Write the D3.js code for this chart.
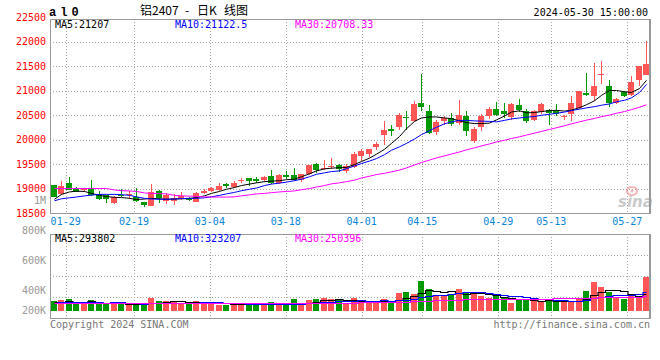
<!DOCTYPE html>
<html><head><meta charset="utf-8">
<script src="https://cdn.jsdelivr.net/npm/d3@7"></script>
<style>body{margin:0;background:#fff}svg{display:block}</style>
</head><body><svg id="c" width="660" height="360"></svg>
<script>
const dates = ["01-25","01-26","01-29","01-30","01-31","02-01","02-02","02-05","02-06","02-07","02-08",
"02-19","02-20","02-21","02-22","02-23","02-26","02-27","02-28","02-29",
"03-01","03-04","03-05","03-06","03-07","03-08","03-11","03-12","03-13","03-14","03-15","03-18","03-19","03-20","03-21","03-22","03-25","03-26","03-27","03-28","03-29",
"04-01","04-02","04-03","04-08","04-09","04-10","04-11","04-12","04-15","04-16","04-17","04-18","04-19","04-22","04-23","04-24","04-25","04-26","04-29","04-30",
"05-06","05-07","05-08","05-09","05-10","05-13","05-14","05-15","05-16","05-17","05-20","05-21","05-22","05-23","05-24","05-27","05-28","05-29","05-30"];

const openP = [19066,18896,19112,18980,18970,19020,18880,18860,18710,18870,18870,
18830,18725,18650,18940,18740,18740,18790,18795,18730,
18900,18945,18965,19085,19030,19160,19215,19195,19170,19250,19115,19285,19280,19170,19290,19495,19410,19440,19470,19360,19440,
19670,19710,19850,20085,20220,20255,20460,20380,20745,20575,20155,20380,20445,20335,20480,19965,20255,20470,20615,20575,
20460,20700,20575,20405,20560,20595,20610,20465,20530,20645,20950,20880,21330,21085,20745,20970,20900,21205,21325];
const highP = [19080,19145,19234,19030,19020,19170,18950,18870,18840,19000,18950,
19020,18730,19090,18960,18900,18880,18930,18830,18920,
19000,19030,19110,19120,19150,19220,19220,19240,19260,19370,19300,19350,19420,19300,19480,19520,19575,19620,19500,19490,19740,
19800,19810,19950,20380,20290,20540,20575,20790,21330,20700,20400,20470,20540,20815,20590,20250,20530,20660,20765,20740,
20750,20820,20615,20600,20740,20615,20720,20500,20890,20990,21355,21560,21595,21210,20850,21000,21295,21500,22020];
const lowP = [18820,18860,18970,18925,18930,18850,18770,18710,18690,18830,18790,
18730,18630,18640,18710,18680,18670,18760,18740,18720,
18890,18920,18950,19020,19020,19110,19050,19110,19140,19100,19090,19200,19160,19140,19280,19320,19385,19400,19340,19320,19420,
19570,19650,19780,19880,20080,20200,20190,20360,20580,20120,20100,20290,20275,20290,20080,19920,20180,20420,20470,20445,
20390,20560,20330,20370,20530,20290,20470,20390,20380,20620,20880,20790,21140,20665,20720,20860,20880,21085,21320];
const closeP = [18833,19045,18977,18930,18980,18860,18780,18790,18830,18860,18880,
18750,18670,18920,18800,18860,18810,18845,18760,18900,
18950,19010,19050,19050,19120,19170,19155,19155,19235,19110,19285,19235,19180,19290,19470,19385,19420,19450,19390,19455,19700,
19765,19800,19900,20185,20170,20490,20450,20730,20660,20130,20355,20445,20325,20495,20175,20220,20470,20615,20495,20530,
20730,20595,20370,20575,20720,20540,20525,20475,20745,20985,20900,21085,21345,20745,20835,20890,21175,21495,21535];

const ma5 = [18780,18880,18930,18945,18940,18900,18860,18835,18820,18815,18800,18775,18785,18800,18790,18780,18785,18790,18795,18815,
18850,18900,18940,18985,19020,19060,19090,19115,19140,19150,19160,19180,19190,19240,19300,19360,19400,19415,19425,19430,
19490,19550,19620,19700,19800,19920,20060,20220,20370,20440,20460,20460,20440,20425,20380,20345,20325,20325,20335,20400,
20480,20560,20585,20545,20550,20570,20590,20595,20580,20600,20650,20710,20790,20900,21000,21000,20975,20960,21040,21207];
const ma10 = [18750,18790,18810,18826,18850,18865,18880,18880,18880,18875,18860,18830,18800,18785,18780,18780,18785,18795,18800,18800,
18810,18830,18860,18890,18920,18955,18985,19010,19060,19090,19110,19130,19160,19190,19240,19290,19320,19345,19360,19405,
19460,19510,19560,19610,19690,19780,19850,19920,20010,20100,20180,20250,20320,20360,20390,20390,20380,20375,20370,20360,
20390,20420,20440,20455,20470,20495,20515,20535,20560,20590,20620,20645,20670,20700,20725,20770,20800,20850,20960,21122];
const ma30 = [19000,19000,19000,19000,19000,19000,19000,19000,18970,18955,18950,18940,18910,18900,18895,18890,18860,18850,18845,18840,
18830,18825,18825,18825,18830,18850,18870,18890,18900,18915,18930,18940,18950,18975,19000,19030,19060,19095,19115,19140,
19170,19215,19250,19285,19310,19340,19375,19420,19480,19530,19580,19625,19665,19705,19745,19790,19830,19870,19910,19950,
19985,20020,20055,20090,20130,20165,20205,20240,20280,20320,20360,20395,20430,20465,20500,20535,20570,20610,20660,20708];

// volume in thousands
const volK = [166,182,200,126,126,182,126,126,126,126,97,97,114,222,166,166,166,126,126,166,
154,126,108,108,108,126,108,108,108,148,126,97,200,108,182,200,228,200,182,137,
222,154,137,137,200,154,308,325,285,507,371,250,250,296,371,325,285,250,222,250,
222,137,182,200,182,154,182,154,154,171,228,336,496,410,325,239,200,250,250,581];
const volMa5 = [158,162,165,160,160,163,152,137,137,137,120,114,112,131,139,153,167,169,150,150,
148,140,136,132,121,115,112,112,112,120,120,117,136,136,143,157,184,184,198,189,
194,179,166,157,170,156,187,225,254,316,359,348,333,335,308,298,305,305,291,266,
246,216,203,198,185,171,180,174,165,163,178,209,277,328,359,361,334,285,253,294];
const volMa10 = [145,148,150,150,150,150,148,145,147,149,141,133,125,134,138,137,141,141,141,145,
151,154,153,141,136,132,126,124,122,121,118,115,124,124,132,139,151,160,167,166,
176,182,175,178,180,175,183,196,206,243,258,268,279,295,312,329,327,319,313,287,
272,261,254,245,226,209,198,189,182,174,175,195,226,247,261,270,272,281,291,323];
const volMa30 = [130,130,131,131,131,131,131,130,130,130,129,129,129,130,130,130,131,131,131,132,
132,132,132,132,132,132,132,132,133,134,134,134,135,136,137,138,140,141,142,143,
145,146,147,148,150,152,157,160,163,170,177,180,183,187,192,197,201,205,208,211,
213,213,213,213,213,213,213,214,214,215,217,221,227,231,234,235,236,238,241,250];

const priceTicks = [18500,19000,19500,20000,20500,21000,21500,22000,22500];
const dateTicks = ["01-29","02-19","03-04","03-18","04-01","04-15","04-29","05-13","05-27"];
const volTickValues = [1000,800,600,400,200];
const volTickLabels = ["1M","800K","600K","400K","200K"];
const priceMaLabels = ["MA5:21207","MA10:21122.5","MA30:20708.33"];
const volMaLabels = ["MA5:293802","MA10:323207","MA30:250396"];
const titleParts = ["铝2407", "-", "日K", "线图"];
const codeText = "al0";
const stampText = "2024-05-30 15:00:00";

const RED = "#ff5555", GREEN = "#009a00", GRID = "#aaaaaa", BORDER = "#999999";
const MONO = "'DejaVu Sans Mono', monospace";
const maColors = ["#000000", "#0000ff", "#ff00ff"];

const svg = d3.select("#c");
const L = 50, R = 650, TOP = 19, BOT = 213, VTOP = 234, VBOT = 318;

const x = d3.scaleBand().domain(d3.range(dates.length)).range([L, R]).paddingInner(0.2).paddingOuter(0.1);
const gx = d3.scaleLinear().domain([0, dates.length - 1]).range([50.5, 650]);
const y = d3.scaleLinear().domain([18500, 22500]).range([213, 17]);
const yv = d3.scaleLinear().domain([0, 1000]).range([311, 252.5]);
const volLabelY = d3.scaleLinear().domain([400, 1000]).range([290.7, 200]);
const X = i => Math.round(x(i));
const CX = i => X(i) + 3;

// grids main
const gMain = svg.append("g");
gMain.selectAll("line.h").data(priceTicks.filter(p => y(p) > TOP + 1 && y(p) < BOT - 1)).join("line")
  .attr("x1", L).attr("x2", R).attr("y1", p => Math.round(y(p)) + 0.5).attr("y2", p => Math.round(y(p)) + 0.5)
  .attr("stroke", GRID).attr("stroke-dasharray", "1,2");
const tickIdx = dateTicks.map(t => dates.indexOf(t));
gMain.selectAll("line.v").data(tickIdx).join("line")
  .attr("x1", i => Math.round(gx(i)) + 0.5).attr("x2", i => Math.round(gx(i)) + 0.5)
  .attr("y1", TOP).attr("y2", BOT).attr("stroke", GRID).attr("stroke-dasharray", "1,2");

// grids volume
const gVol = svg.append("g");
const volGridY = d3.range(1, 4).map(k => VTOP + (VBOT - VTOP) * k / 4);
gVol.selectAll("line.h").data(volGridY).join("line")
  .attr("x1", L).attr("x2", R).attr("y1", d => Math.round(d) + 0.5).attr("y2", d => Math.round(d) + 0.5)
  .attr("stroke", GRID).attr("stroke-dasharray", "1,2");
gVol.selectAll("line.v").data(tickIdx).join("line")
  .attr("x1", i => Math.round(gx(i)) + 0.5).attr("x2", i => Math.round(gx(i)) + 0.5)
  .attr("y1", VTOP).attr("y2", VBOT + 2).attr("stroke", GRID).attr("stroke-dasharray", "1,2");

// watermark
const wm = svg.append("g").attr("opacity", 0.6);
wm.append("ellipse").attr("cx", 632).attr("cy", 191).attr("rx", 5).attr("ry", 4).attr("fill", "none").attr("stroke", "#f08a8a").attr("stroke-width", 2.2);
wm.append("circle").attr("cx", 632).attr("cy", 191).attr("r", 1.5).attr("fill", "#f08a8a");
wm.append("text").attr("x", 618).attr("y", 207).text("sina")
  .attr("font-family", "'DejaVu Sans', sans-serif").attr("font-style", "italic").attr("font-weight", "bold")
  .attr("font-size", 15).attr("fill", "#a8a8a8");

// candles
const data = dates.map((d, i) => ({ i, o: openP[i], h: highP[i], l: lowP[i], c: closeP[i], v: volK[i] }));
const colOf = d => d.c >= d.o ? RED : GREEN;
const gC = svg.append("g").attr("shape-rendering", "crispEdges");
gC.selectAll("line.w").data(data).join("line")
  .attr("x1", d => CX(d.i) + 0.5).attr("x2", d => CX(d.i) + 0.5)
  .attr("y1", d => Math.round(y(d.h))).attr("y2", d => Math.round(y(d.l)))
  .attr("stroke", colOf);
gC.selectAll("rect").data(data).join("rect")
  .attr("x", d => X(d.i)).attr("width", 6)
  .attr("y", d => Math.round(y(Math.max(d.o, d.c))))
  .attr("height", d => Math.max(1, Math.round(y(Math.min(d.o, d.c))) - Math.round(y(Math.max(d.o, d.c)))))
  .attr("fill", colOf);

// MA lines main
const lineP = d3.line().x((v, i) => CX(i) + 0.5).y(v => y(v));
[ma5, ma10, ma30].forEach((s, k) => {
  svg.append("path").attr("d", lineP(s)).attr("fill", "none").attr("stroke", maColors[k]).attr("stroke-width", 1);
});

// volume bars
const gV = svg.append("g").attr("shape-rendering", "crispEdges");
gV.selectAll("rect").data(data).join("rect")
  .attr("x", d => X(d.i)).attr("width", 6)
  .attr("y", d => Math.round(yv(d.v))).attr("height", d => 311 - Math.round(yv(d.v)))
  .attr("fill", colOf);
const lineV = d3.line().x((v, i) => CX(i) + 0.5).y(v => Math.round(yv(v)) + 0.5).curve(d3.curveStep);
[volMa5, volMa10, volMa30].forEach((s, k) => {
  svg.append("path").attr("d", lineV(s)).attr("fill", "none").attr("stroke", maColors[k]).attr("stroke-width", 1.2);
});

// borders
svg.append("rect").attr("x", L + 0.5).attr("y", TOP + 0.5).attr("width", R - L - 1).attr("height", BOT - TOP)
  .attr("fill", "none").attr("stroke", BORDER);
svg.append("line").attr("x1", R).attr("x2", R).attr("y1", TOP).attr("y2", BOT + 1).attr("stroke", BORDER).attr("stroke-width", 2);
svg.append("rect").attr("x", L + 0.5).attr("y", VTOP + 0.5).attr("width", R - L - 1).attr("height", VBOT - VTOP)
  .attr("fill", "none").attr("stroke", BORDER);
svg.append("line").attr("x1", R).attr("x2", R).attr("y1", VTOP).attr("y2", VBOT + 1).attr("stroke", BORDER).attr("stroke-width", 2);

// price labels
svg.append("g").selectAll("text").data(priceTicks).join("text")
  .attr("x", 46).attr("y", p => y(p)).attr("dy", "0.35em").attr("text-anchor", "end")
  .attr("font-family", MONO).attr("font-size", 10).attr("fill", "#ff0000").text(p => p);

// volume labels
svg.append("g").selectAll("text").data(volTickValues).join("text")
  .attr("x", 46).attr("y", v => Math.min(volLabelY(v), 310.7)).attr("dy", "0.35em").attr("text-anchor", "end")
  .attr("font-family", MONO).attr("font-size", 10).attr("fill", "#999999").text((v, i) => volTickLabels[i]);

// date labels
svg.append("g").selectAll("text").data(tickIdx).join("text")
  .attr("x", i => gx(i)).attr("y", 225).attr("text-anchor", "middle")
  .attr("font-family", MONO).attr("font-size", 10).attr("fill", "#0a85d6").text(i => dates[i]);

// MA legends
const legX = [55, 175, 295];
priceMaLabels.forEach((t, k) => svg.append("text").attr("x", legX[k]).attr("y", 27.5)
  .attr("font-family", MONO).attr("font-size", 10).attr("fill", maColors[k]).text(t));
volMaLabels.forEach((t, k) => svg.append("text").attr("x", legX[k]).attr("y", 242)
  .attr("font-family", MONO).attr("font-size", 10).attr("fill", maColors[k]).text(t));

// header
svg.append("text").attr("x", 49).attr("y", 16).attr("font-family", "'Liberation Mono', monospace")
  .attr("font-weight", "bold").attr("font-size", 12).attr("letter-spacing", 4).attr("fill", "#000").text(codeText);
const title = svg.append("text").attr("y", 15).attr("font-family", "'Noto Sans CJK SC', sans-serif")
  .attr("font-size", 12).attr("fill", "#000");
const titleX = [140, 185, 197, 224];
titleParts.forEach((t, k) => title.append("tspan").attr("x", titleX[k]).text(t));
svg.append("text").attr("x", 648).attr("y", 16).attr("text-anchor", "end")
  .attr("font-family", MONO).attr("font-size", 10).attr("fill", "#000").text(stampText);

// footer
svg.append("text").attr("x", 50).attr("y", 328).attr("font-family", MONO).attr("font-size", 10)
  .attr("fill", "#777777").text("Copyright 2024 SINA.COM");
svg.append("text").attr("x", 650).attr("y", 328).attr("text-anchor", "end").attr("font-family", MONO).attr("font-size", 10)
  .attr("fill", "#777777").text("http://finance.sina.com.cn");
</script></body></html>
